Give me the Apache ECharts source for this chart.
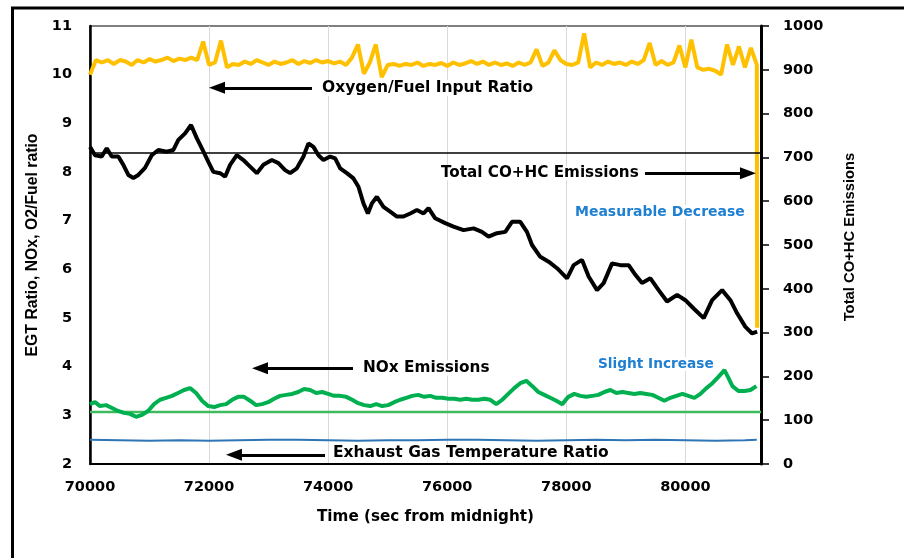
<!DOCTYPE html>
<html><head><meta charset="utf-8">
<script src="https://cdn.jsdelivr.net/npm/echarts@6/dist/echarts.min.js"></script>
<style>html,body{margin:0;padding:0;background:#fff}#c{width:904px;height:558px}</style>
</head><body><div id="c"></div>
<script>
// Time axis (sec from midnight)
const timeMin = 70000, timeMax = 81270, timeStep = 2000;
const leftTicks = {min: 2, max: 11, step: 1};
const rightTicks = {min: 0, max: 1000, step: 100};

// Oxygen/Fuel Input Ratio (left axis), every 100 s
const o2Start = 70000, o2Step = 100;
const o2Values = [10.0,10.3,10.25,10.3,10.22,10.3,10.27,10.2,10.3,10.25,10.32,10.27,10.3,10.35,10.28,10.33,10.3,10.35,10.3,10.68,
10.2,10.25,10.7,10.15,10.22,10.2,10.27,10.22,10.3,10.25,10.2,10.27,10.22,10.25,10.3,10.22,10.28,10.24,10.3,10.25,
10.28,10.23,10.27,10.2,10.35,10.62,10.02,10.25,10.62,9.95,10.2,10.22,10.18,10.22,10.2,10.25,10.18,10.22,10.2,10.24,
10.18,10.25,10.2,10.23,10.28,10.22,10.27,10.2,10.25,10.2,10.23,10.18,10.25,10.2,10.25,10.52,10.18,10.25,10.5,10.3,
10.22,10.2,10.25,10.85,10.15,10.25,10.2,10.27,10.22,10.25,10.2,10.27,10.22,10.3,10.65,10.2,10.28,10.2,10.25,10.6,
10.15,10.72,10.15,10.1,10.12,10.08,10.0,10.62,10.2,10.58,10.15,10.55,10.2];
const o2End = [81205, 4.8];

// Total CO+HC Emissions (right axis) [time, value]
const coData = [[70000,724],[70084,705],[70197,702],[70281,721],[70365,702],[70476,702],[70560,683],[70644,660],[70728,653],[70812,660],[70924,676],[71037,705],[71148,717],[71289,713],[71400,717],[71484,740],[71597,755],[71697,774],[71793,744],[71877,721],[71988,690],[72072,667],[72185,664],[72269,656],[72353,683],[72466,705],[72576,694],[72689,679],[72802,664],[72913,683],[73054,694],[73165,687],[73277,671],[73361,664],[73474,675],[73585,702],[73669,732],[73753,724],[73837,705],[73921,694],[74034,702],[74118,698],[74202,675],[74314,664],[74425,652],[74509,633],[74593,595],[74667,572],[74734,595],[74818,610],[74929,587],[75042,576],[75155,565],[75266,565],[75378,572],[75491,580],[75602,572],[75686,584],[75798,561],[75966,550],[76106,542],[76274,534],[76442,538],[76583,530],[76694,519],[76835,527],[76975,530],[77087,553],[77227,553],[77339,530],[77424,500],[77563,473],[77703,462],[77844,447],[78012,424],[78123,454],[78264,466],[78375,428],[78516,397],[78627,413],[78768,458],[78908,454],[79047,454],[79160,432],[79272,413],[79412,424],[79551,397],[79692,371],[79861,386],[80000,374],[80139,355],[80308,333],[80449,374],[80617,397],[80756,374],[80869,344],[81008,313],[81121,298],[81205,302]];

// NOx Emissions (left axis) [time, value]
const noxData = [[70000,3.23],[70084,3.27],[70168,3.19],[70269,3.21],[70370,3.15],[70471,3.09],[70571,3.05],[70672,3.03],[70773,2.97],[70874,3.01],[70975,3.09],[71076,3.23],[71176,3.32],[71277,3.36],[71378,3.40],[71479,3.46],[71580,3.52],[71681,3.56],[71782,3.46],[71882,3.30],[71983,3.19],[72084,3.17],[72185,3.21],[72286,3.23],[72387,3.32],[72487,3.38],[72588,3.38],[72689,3.30],[72790,3.21],[72891,3.23],[72992,3.27],[73092,3.34],[73193,3.40],[73294,3.42],[73395,3.44],[73496,3.48],[73597,3.54],[73698,3.52],[73798,3.46],[73899,3.48],[74000,3.44],[74101,3.40],[74202,3.40],[74303,3.38],[74403,3.32],[74504,3.25],[74605,3.21],[74706,3.19],[74807,3.23],[74908,3.19],[75008,3.21],[75109,3.27],[75210,3.32],[75311,3.36],[75412,3.40],[75513,3.42],[75614,3.38],[75714,3.40],[75815,3.36],[75916,3.36],[76017,3.34],[76118,3.34],[76219,3.32],[76319,3.34],[76420,3.32],[76521,3.32],[76622,3.34],[76723,3.32],[76824,3.23],[76924,3.32],[77025,3.44],[77126,3.56],[77227,3.66],[77328,3.71],[77429,3.60],[77529,3.48],[77630,3.42],[77731,3.36],[77832,3.30],[77933,3.23],[78034,3.38],[78135,3.44],[78235,3.40],[78336,3.38],[78437,3.40],[78538,3.42],[78639,3.48],[78740,3.52],[78840,3.46],[78941,3.48],[79042,3.46],[79143,3.44],[79244,3.46],[79345,3.44],[79445,3.42],[79546,3.36],[79647,3.30],[79748,3.36],[79849,3.40],[79950,3.44],[80050,3.40],[80151,3.36],[80252,3.44],[80353,3.56],[80454,3.66],[80555,3.79],[80656,3.93],[80723,3.77],[80790,3.60],[80891,3.50],[80992,3.50],[81093,3.52],[81193,3.60]];

// Exhaust Gas Temperature Ratio (left axis)
const egtData = [[70000,2.50],[70500,2.49],[71000,2.48],[71500,2.49],[72000,2.48],[72500,2.49],[73000,2.50],[73500,2.50],[74000,2.49],[74500,2.48],[75000,2.49],[75500,2.49],[76000,2.50],[76500,2.50],[77000,2.49],[77500,2.48],[78000,2.49],[78500,2.50],[79000,2.49],[79500,2.50],[80000,2.49],[80500,2.48],[81000,2.49],[81200,2.50]];

// Reference levels
const coRefLevel = 710;
const noxRefLevel = 3.07;

// Annotation arrows [fromTime, toTime, level]
const o2Arrow = [73728, 72133, 9.73];
const coArrow = [79321, 81051, 664];
const noxArrow = [74417, 72855, 3.97];
const egtArrow = [73947, 72418, 2.19];

const labels = {
  o2: 'Oxygen/Fuel Input Ratio',
  co: 'Total CO+HC Emissions',
  dec: 'Measurable Decrease',
  nox: 'NOx Emissions',
  inc: 'Slight Increase',
  egt: 'Exhaust Gas Temperature Ratio',
  yLeft: 'EGT Ratio, NOx, O2/Fuel ratio',
  yRight: 'Total CO+HC Emissions',
  x: 'Time (sec from midnight)'
};

const o2Data = o2Values.map((v, i) => [o2Start + i * o2Step, v]).concat([o2End]);

const FONT = 'DejaVu Sans';
const plain = v => String(v);
function arrowLine(a) {
  return {
    silent: true, symbol: ['none', 'triangle'], symbolSize: [12, 16],
    lineStyle: {color: '#000', width: 3, type: 'solid'},
    label: {show: false},
    emphasis: {disabled: true},
    data: [[{coord: [a[0], a[2]]}, {coord: [a[1], a[2]]}]]
  };
}
function note(x, y, text, size, color) {
  return {type: 'text', x: x, y: y, z: 100, silent: true,
    style: {text: text, font: 'bold ' + size + 'px "DejaVu Sans"', fill: color, textVerticalAlign: 'middle',
      backgroundColor: '#fff', padding: [0, 2]}};
}
const chart = echarts.init(document.getElementById('c'));
chart.setOption({
  animation: false,
  backgroundColor: '#fff',
  grid: {left: 90, right: 143, top: 26, bottom: 94, show: true, borderColor: '#000', borderWidth: 1.2, backgroundColor: 'transparent'},
  xAxis: {
    type: 'value', min: timeMin, max: timeMax, interval: timeStep,
    name: labels.x, nameLocation: 'middle', nameGap: 46,
    nameTextStyle: {fontFamily: FONT, fontWeight: 'bold', fontSize: 15.2, color: '#000'},
    axisLine: {lineStyle: {color: '#000', width: 2}},
    axisTick: {show: false},
    axisLabel: {fontFamily: FONT, fontWeight: 'bold', fontSize: 14.5, color: '#000', margin: 16, showMaxLabel: false, formatter: plain},
    splitLine: {show: true, lineStyle: {color: '#d9d9d9', width: 1}}
  },
  yAxis: [{
    type: 'value', min: leftTicks.min, max: leftTicks.max, interval: leftTicks.step,
    axisLine: {show: true, lineStyle: {color: '#000', width: 2.5}},
    axisTick: {show: false},
    axisLabel: {fontFamily: FONT, fontWeight: 'bold', fontSize: 14.5, color: '#000', margin: 18, formatter: plain},
    splitLine: {show: false}
  }, {
    type: 'value', min: rightTicks.min, max: rightTicks.max, interval: rightTicks.step, position: 'right',
    axisLine: {show: true, lineStyle: {color: '#000', width: 3}},
    axisTick: {show: true, length: 8, lineStyle: {color: '#000', width: 1.5}},
    axisLabel: {fontFamily: FONT, fontWeight: 'bold', fontSize: 14.5, color: '#000', margin: 22, formatter: plain},
    splitLine: {show: false}
  }],
  series: [
    {type: 'line', name: 'O2', yAxisIndex: 0, data: o2Data, showSymbol: false, lineStyle: {color: '#FFC000', width: 4}, z: 2,
      markLine: arrowLine(o2Arrow)},
    {type: 'line', name: 'CORef', yAxisIndex: 1, data: [[timeMin, coRefLevel], [timeMax, coRefLevel]], showSymbol: false, lineStyle: {color: '#000', width: 1.5}, z: 3},
    {type: 'line', name: 'CO', yAxisIndex: 1, data: coData, showSymbol: false, lineStyle: {color: '#000', width: 4}, z: 4,
      markLine: arrowLine(coArrow)},
    {type: 'line', name: 'NOxRef', yAxisIndex: 0, data: [[timeMin, noxRefLevel], [timeMax, noxRefLevel]], showSymbol: false, lineStyle: {color: '#3dbb5e', width: 2.5}, z: 3},
    {type: 'line', name: 'NOx', yAxisIndex: 0, data: noxData, showSymbol: false, lineStyle: {color: '#00B050', width: 4}, z: 4,
      markLine: arrowLine(noxArrow)},
    {type: 'line', name: 'EGT', yAxisIndex: 0, data: egtData, showSymbol: false, lineStyle: {color: '#2E75B6', width: 2}, z: 4,
      markLine: arrowLine(egtArrow)}
  ],
  graphic: [
    {type: 'rect', shape: {x: 12.5, y: 8, width: 2000, height: 1000}, style: {fill: 'none', stroke: '#000', lineWidth: 3}, silent: true},
    note(320, 88, labels.o2, 15.5, '#000'),
    note(439, 173, labels.co, 15.2, '#000'),
    note(573, 212, labels.dec, 14, '#1F7FD0'),
    note(361, 368, labels.nox, 15.3, '#000'),
    note(596, 364, labels.inc, 13.7, '#1F7FD0'),
    note(331, 453, labels.egt, 15.5, '#000'),
    {type: 'text', x: 33, y: 245, rotation: Math.PI / 2, style: {text: labels.yLeft, font: 'bold 15.8px "Liberation Sans"', fill: '#000', textAlign: 'center', textVerticalAlign: 'middle'}},
    {type: 'text', x: 850, y: 237, rotation: Math.PI / 2, style: {text: labels.yRight, font: 'bold 14.8px "Liberation Sans"', fill: '#000', textAlign: 'center', textVerticalAlign: 'middle'}}
  ]
});
</script></body></html>
